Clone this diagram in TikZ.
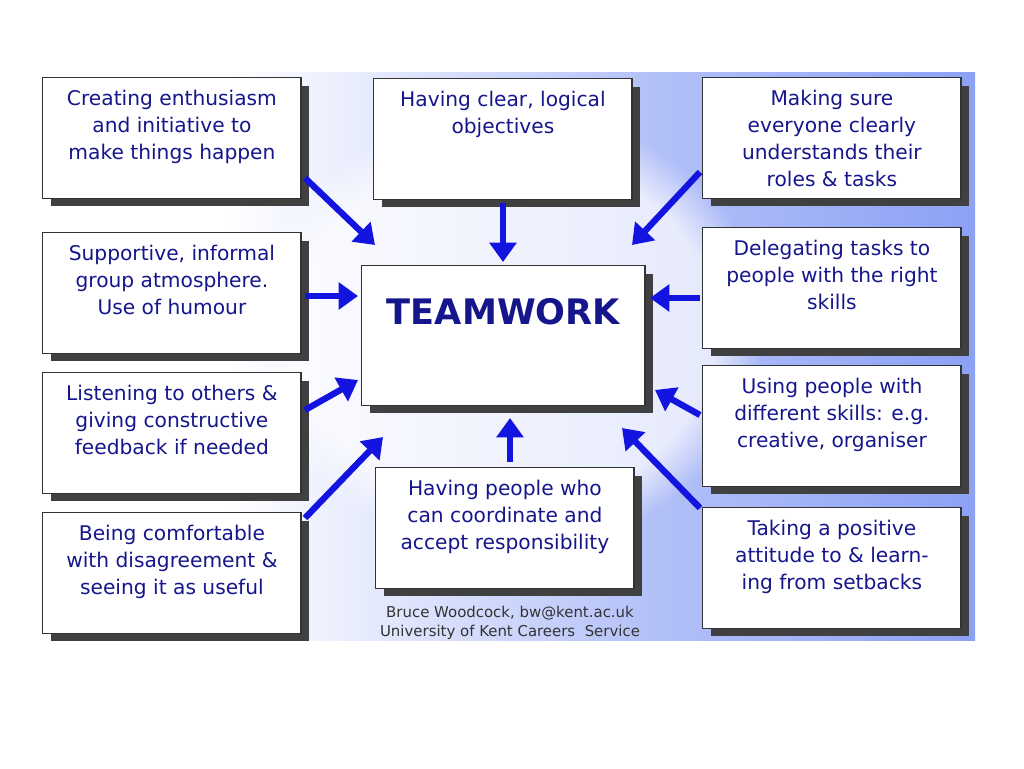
\documentclass[tikz,border=0pt]{standalone}
\usepackage{fontspec}
\setmainfont{DejaVu Sans}
\usetikzlibrary{shadows,fadings,arrows.meta}
\definecolor{teamblue}{RGB}{22,22,140}
\definecolor{arrowblue}{RGB}{20,20,225}
\definecolor{panelblue}{RGB}{85,115,240}
\pgfdeclarehorizontalshading{panelshade}{100bp}{color(0bp)=(white); color(35bp)=(white); color(58bp)=(panelblue!45); color(100bp)=(panelblue)}
\newcommand{\ideatext}[2]{\parbox[t][#1][t]{5.1cm}{\centering #2}}

\begin{document}
\begin{tikzpicture}
[x=0.02cm, y=-0.02cm,
% STYLES
% The idea style is used for the boxes around the centre
idea/.style={rectangle, draw=black!80, fill=white, line width=0.8pt, inner xsep=1pt, inner ysep=7pt, anchor=north west, text=teamblue, font=\fontsize{11.5}{15.3}\selectfont, drop shadow={shadow xshift=4.5pt, shadow yshift=-4.5pt, fill=black!75, opacity=1}},
% The core style is used for the TEAMWORK box
core/.style={idea, font=\bfseries\fontsize{20}{24}\selectfont},
% The push style is used for the arrows
push/.style={-{Triangle[length=11pt, width=15pt]}, line width=3.6pt, arrowblue}]

\useasboundingbox (0,0) rectangle (1024,768);
\fill[white] (0,0) rectangle (1024,768);

% Draw background panel
\shade[shading=panelshade] (40,72) rectangle (975,640);
\fill[white, path fading=circle with fuzzy edge 20 percent, opacity=0.7] (505,330) ellipse (260 and 220);

% Draw boxes
\node [idea] (enthusiasm) at (42,77) {\ideatext{1.92cm}{Creating enthusiasm\\and initiative to\\make things happen}};
\node [idea] (atmosphere) at (42,232) {\ideatext{1.92cm}{Supportive, informal\\group atmosphere.\\Use of humour}};
\node [idea] (listening) at (42,372) {\ideatext{1.92cm}{Listening to others \&\\giving constructive\\feedback if needed}};
\node [idea] (disagreement) at (42,512) {\ideatext{1.92cm}{Being comfortable\\with disagreement \&\\seeing it as useful}};
\node [idea] (objectives) at (373,78) {\ideatext{1.92cm}{Having clear, logical\\objectives}};
\node [core] (teamwork) at (361,265) {\parbox[t][2.3cm][t]{5.6cm}{\centering\vspace{0.4cm}TEAMWORK}};
\node [idea] (coordinate) at (375,467) {\ideatext{1.92cm}{Having people who\\can coordinate and\\accept responsibility}};
\node [idea] (roles) at (702,77) {\ideatext{1.92cm}{Making sure\\everyone clearly\\understands their\\roles \& tasks}};
\node [idea] (delegating) at (702,227) {\ideatext{1.92cm}{Delegating tasks to\\people with the right\\skills}};
\node [idea] (skills) at (702,365) {\ideatext{1.92cm}{Using people with\\different skills: e.g.\\creative, organiser}};
\node [idea] (setbacks) at (702,507) {\ideatext{1.92cm}{Taking a positive\\attitude to \& learn-\\ing from setbacks}};

% Footer
\node [align=center, text=black!80, font=\fontsize{8.5}{10.5}\selectfont] (footer) at (510,623) {Bruce Woodcock, bw@kent.ac.uk\\University of Kent Careers\ \ Service};

% Draw the arrows
\coordinate (t1) at (375,245); \coordinate (t2) at (358,296);
\coordinate (t3) at (358,380); \coordinate (t4) at (383,437);
\coordinate (t5) at (503,262); \coordinate (t6) at (510,418);
\coordinate (t7) at (632,245); \coordinate (t8) at (650,298);
\coordinate (t9) at (655,390); \coordinate (t10) at (622,428);
\draw[push] (305,178) -- (t1);
\draw[push] (305,296) -- (t2);
\draw[push] (305,410) -- (t3);
\draw[push] (305,518) -- (t4);
\draw[push] (503,203) -- (t5);
\draw[push] (510,462) -- (t6);
\draw[push] (700,172) -- (t7);
\draw[push] (700,298) -- (t8);
\draw[push] (700,415) -- (t9);
\draw[push] (700,508) -- (t10);

\end{tikzpicture}
\end{document}
